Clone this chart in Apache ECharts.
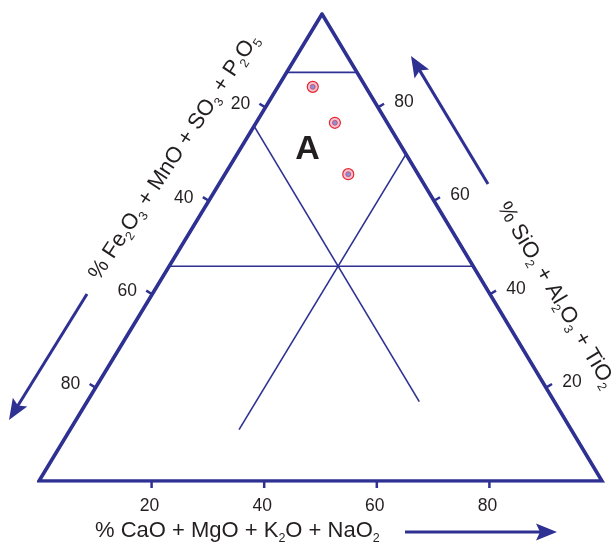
<!DOCTYPE html>
<html><head><meta charset="utf-8">
<script src="https://cdn.jsdelivr.net/npm/echarts@6/dist/echarts.min.js"></script>
<style>html,body{margin:0;padding:0;background:#fff}#c{width:616px;height:544px}</style>
</head><body><div id="c"></div>
<script>
// ---- data ----
const tickValues = [20, 40, 60, 80];
const tickLabels = ['20', '40', '60', '80'];
// samples (ternary %): S = SiO2+Al2O3+TiO2 (apex), F = Fe2O3+MnO+SO3+P2O5 (bottom-left), C = CaO+MgO+K2O+NaO2 (bottom-right)
const sampleS = [84.4, 76.7, 65.7];
const sampleF = [9.4, 9.3, 12.4];
const sampleC = [6.2, 14.0, 21.9];
// field boundary lines (start / end, ternary %)
const lineStartS = [87.5, 46, 76, 70];
const lineStartF = [12.5, 54, 24, 0];
const lineStartC = [0, 0, 0, 30];
const lineEndS = [87.5, 46, 17, 11];
const lineEndF = [0, 0, 24, 59];
const lineEndC = [12.5, 54, 59, 30];
// field labels
const fieldLabels = ['A'];
const fieldS = [71.0];
const fieldF = [17.0];
const fieldC = [12.0];

const BLUE = '#2e3192';
const INK = '#231f20';
const FONT = '"Liberation Sans", Arial, sans-serif';
const APEX = 50.27; // apex position along the base (%)

function tern(S, F, C) {
  const t = S + F + C;
  return [(C + S * APEX / 100) * 100 / t, S * 100 / t];
}

const series = [];
// outline
series.push({
  type: 'line', silent: true, symbol: 'none', animation: false,
  data: [tern(100,0,0), tern(0,100,0), tern(0,0,100), tern(100,0,0), tern(0,100,0)],
  lineStyle: { color: BLUE, width: 3.6, join: 'miter', miterLimit: 10 }
});
// boundaries
for (let i = 0; i < lineStartS.length; i++) {
  series.push({
    type: 'line', silent: true, symbol: 'none', animation: false,
    data: [tern(lineStartS[i], lineStartF[i], lineStartC[i]), tern(lineEndS[i], lineEndF[i], lineEndC[i])],
    lineStyle: { color: BLUE, width: 1.6 }
  });
}
// ticks + labels
const tickData = [];
[0, 1, 2].forEach(a => tickValues.forEach((v, k) => tickData.push([a, v, k])));
series.push({
  type: 'custom', silent: true, animation: false,
  data: tickData,
  renderItem: function (params, api) {
    const a = api.value(0), v = api.value(1), k = api.value(2);
    const P0 = api.coord(tern(100,0,0)), PL = api.coord(tern(0,100,0)), PR = api.coord(tern(0,0,100));
    let p, n, off;
    if (a === 0) { p = api.coord(tern(0, 100 - v, v)); n = [0, 1]; off = [-2, 25]; }
    else if (a === 1) {
      p = api.coord(tern(100 - v, v, 0));
      const d = [PL[0]-P0[0], PL[1]-P0[1]]; const L = Math.hypot(d[0], d[1]);
      n = [-d[1]/L, d[0]/L]; off = [-25, -3];
    } else {
      p = api.coord(tern(v, 0, 100 - v));
      const d = [PR[0]-P0[0], PR[1]-P0[1]]; const L = Math.hypot(d[0], d[1]);
      n = [d[1]/L, -d[0]/L]; off = [26, -5.5];
    }
    return {
      type: 'group',
      children: [
        { type: 'line', shape: { x1: p[0], y1: p[1], x2: p[0] + n[0]*7, y2: p[1] + n[1]*7 },
          style: { stroke: BLUE, lineWidth: 2.5 } },
        { type: 'text', style: { text: tickLabels[k], x: p[0] + off[0], y: p[1] + off[1],
          align: 'center', verticalAlign: 'middle', fontSize: 17.5, fontFamily: FONT, fill: INK } }
      ]
    };
  }
});
// samples
const sampleData = sampleS.map((s, i) => tern(s, sampleF[i], sampleC[i]));
series.push({
  type: 'scatter', silent: true, animation: false, data: sampleData, symbol: 'circle', symbolSize: 11,
  itemStyle: { color: '#f0c4d6', borderColor: '#e5262d', borderWidth: 1.2, opacity: 1 }
});
series.push({
  type: 'scatter', silent: true, animation: false, data: sampleData, symbol: 'circle', symbolSize: 5,
  itemStyle: { color: '#8a8fd6', borderColor: '#e5262d', borderWidth: 0.6, opacity: 1 }
});
// field labels
series.push({
  type: 'custom', silent: true, animation: false,
  data: fieldLabels.map((t, i) => tern(fieldS[i], fieldF[i], fieldC[i]).concat([i])),
  renderItem: function (params, api) {
    const p = api.coord([api.value(0), api.value(1)]);
    return { type: 'text', style: { text: fieldLabels[api.value(2)], x: p[0], y: p[1], align: 'center',
      verticalAlign: 'middle', fontSize: 34, fontWeight: 'bold', fontFamily: FONT, fill: INK } };
  }
});

function arrow(x1, y1, x2, y2) {
  const head = 21, w = 17, notch = 4;
  const dx = x2 - x1, dy = y2 - y1, L = Math.hypot(dx, dy), ux = dx / L, uy = dy / L;
  const bx = x2 - ux * head, by = y2 - uy * head;
  return [
    { type: 'line', shape: { x1, y1, x2: bx + ux * 6, y2: by + uy * 6 }, style: { stroke: BLUE, lineWidth: 3 } },
    { type: 'polygon', shape: { points: [[x2, y2], [bx - uy * w / 2, by + ux * w / 2], [bx + ux * notch, by + uy * notch], [bx + uy * w / 2, by - ux * w / 2]] },
      style: { fill: BLUE } }
  ];
}

const rich = {
  t: { fontSize: 22, fontFamily: FONT, fill: INK, lineHeight: 28 },
  s: { fontSize: 12.5, fontFamily: FONT, fill: INK, lineHeight: 14, verticalAlign: 'bottom' }
};
const titleBottom = '{t|% CaO + MgO + K}{s|2}{t|O + NaO}{s|2}';
const titleLeft = '{t|% Fe}{s|2}{t|O}{s|3}{t| + MnO + SO}{s|3}{t| + P}{s|2}{t|O}{s|5}';
const titleRight = '{t|% SiO}{s|2}{t| + Al}{s|2}{t|O}{s|3}{t| + TiO}{s|2}';

const graphic = [].concat(
  arrow(488, 184, 411, 56),
  arrow(87, 294, 9, 420),
  arrow(405, 532, 557, 532),
  [
    { type: 'text', x: 95, y: 531, style: { text: titleBottom, rich, align: 'left', verticalAlign: 'middle' } },
    { type: 'text', x: 174, y: 157, rotation: 56.5 * Math.PI / 180,
      style: { text: titleLeft, rich, align: 'center', verticalAlign: 'middle' } },
    { type: 'text', x: 556, y: 295, rotation: -59.5 * Math.PI / 180,
      style: { text: titleRight, rich, align: 'center', verticalAlign: 'middle' } }
  ]
);

const chart = echarts.init(document.getElementById('c'), null, { renderer: 'canvas' });
chart.setOption({
  animation: false,
  backgroundColor: '#fff',
  grid: { left: 39, top: 14, width: 563, height: 467 },
  xAxis: { type: 'value', min: 0, max: 100, show: false },
  yAxis: { type: 'value', min: 0, max: 100, show: false },
  series,
  graphic
});
</script></body></html>
